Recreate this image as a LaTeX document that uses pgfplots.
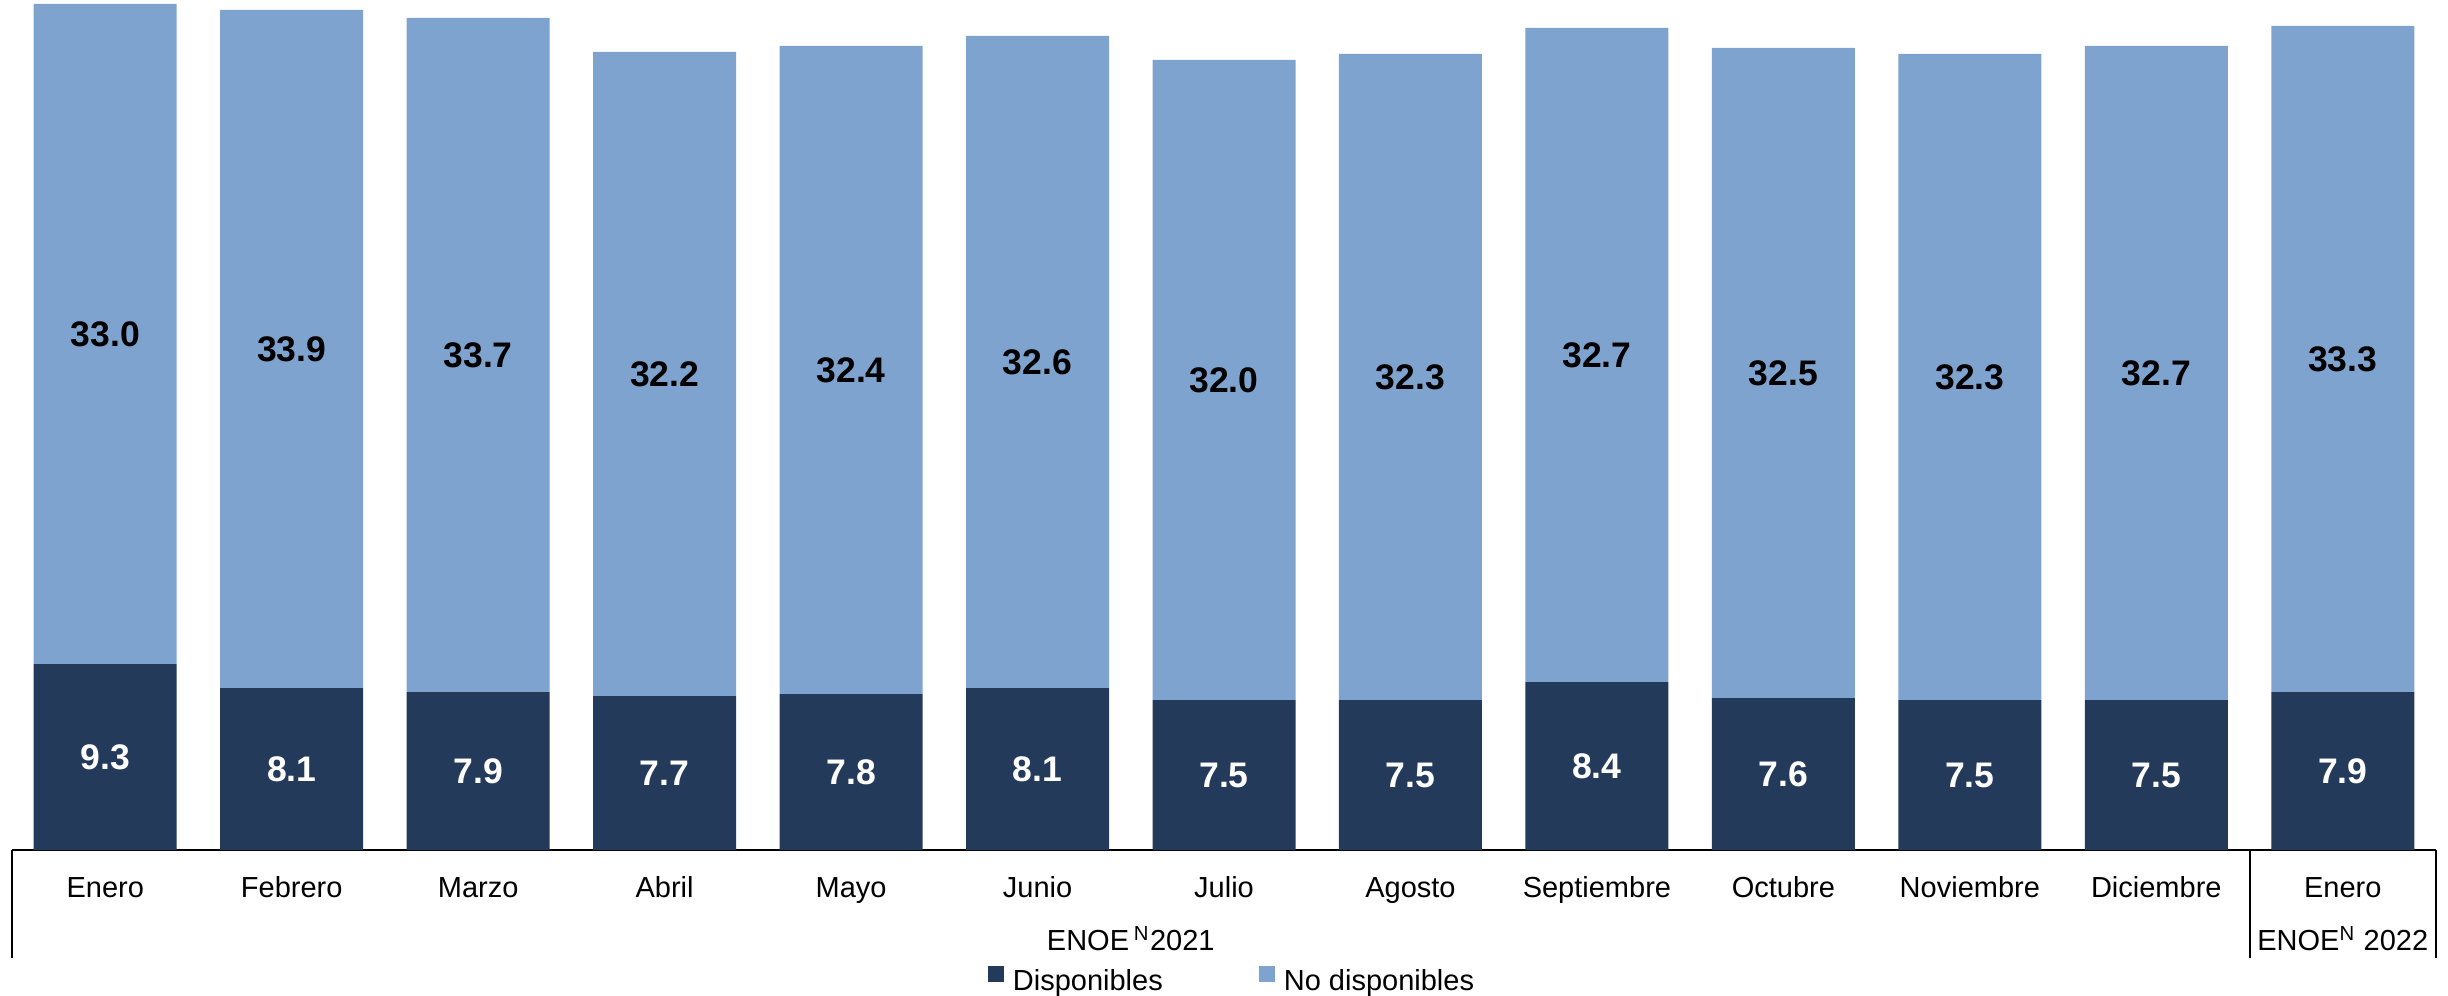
\documentclass[border=0pt]{standalone}
\usepackage{fontspec}
\setmainfont{Liberation Sans}
\usepackage{pgfplots}
\pgfplotsset{compat=1.18}
\usepackage{pgfplotstable}
\definecolor{cDark}{HTML}{233A5A}
\definecolor{cLight}{HTML}{7FA3CF}

\pgfplotstableread{
x d n
0 9.3 33.0
1 8.1 33.9
2 7.9 33.7
3 7.7 32.2
4 7.8 32.4
5 8.1 32.6
6 7.5 32.0
7 7.5 32.3
8 8.4 32.7
9 7.6 32.5
10 7.5 32.3
11 7.5 32.7
12 7.9 33.3
}\datatable

\pgfplotsset{sqlegend/.style={legend image code/.code={\fill[##1] (0pt,0pt) rectangle (5.52pt,5.52pt); \path (8.62pt,0pt);}}}

\begin{document}
\begin{tikzpicture}
\begin{axis}[
  scale only axis, width=835.8pt, height=293.1pt,
  xmin=-0.5, xmax=12.5, ymin=0, ymax=42.5,
  axis y line=none, axis x line=bottom,
  x axis line style={-, line width=0.86pt, black},
  ytick=\empty,
  xtick={0,...,12},
  xticklabels={Enero,Febrero,Marzo,Abril,Mayo,Junio,Julio,Agosto,Septiembre,Octubre,Noviembre,Diciembre,Enero},
  major tick length=0pt,
  xticklabel style={anchor=base, yshift=-16.2pt, font=\fontsize{10}{12}\selectfont, text=black},
  ybar stacked, bar width=49.3pt,
  clip=false,
  point meta=explicit symbolic,
  nodes near coords={\pgfplotspointmeta},
  every node near coord/.append style={anchor=center, font=\fontsize{12.25}{14}\selectfont\bfseries},
  legend columns=2,
  legend style={draw=none, fill=none, at={(rel axis cs:0,0)}, anchor=north west, xshift=336.5pt, yshift=-40pt,
    font=\fontsize{10}{12}\selectfont, inner sep=0pt, outer sep=0pt, nodes={inner sep=0pt},
    column sep=0pt, /tikz/every even column/.append style={column sep=33.1pt}},
]
\addplot[fill=cDark, draw=none, sqlegend,
  every node near coord/.append style={text=white}] table[x=x,y=d,meta=d]{\datatable};
\addlegendentry{Disponibles}
\addplot[fill=cLight, draw=none, sqlegend,
  every node near coord/.append style={text=black}] table[x=x,y=n,meta=n]{\datatable};
\addlegendentry{No disponibles}

\draw[line width=0.7pt] (axis cs:-0.5,0) -- ++(0pt,-37.2pt);
\draw[line width=0.7pt] (axis cs:11.5,0) -- ++(0pt,-37.2pt);
\draw[line width=0.7pt] (axis cs:12.5,0) -- ++(0pt,-37.2pt);
\node[anchor=base, font=\fontsize{10}{12}\selectfont, yshift=-34.8pt] at (axis cs:5.5,0) {ENOE\,\textsuperscript{N}2021};
\node[anchor=base, font=\fontsize{10}{12}\selectfont, yshift=-34.8pt] at (axis cs:12,0) {ENOE\textsuperscript{N} 2022};
\coordinate (O) at (rel axis cs:0,0);
\coordinate (T) at (rel axis cs:1,1);
\end{axis}
\pgfresetboundingbox
\path[use as bounding box] ([xshift=-4.14pt,yshift=-50pt]O) rectangle ([xshift=4.14pt]T);
\end{tikzpicture}
\end{document}
